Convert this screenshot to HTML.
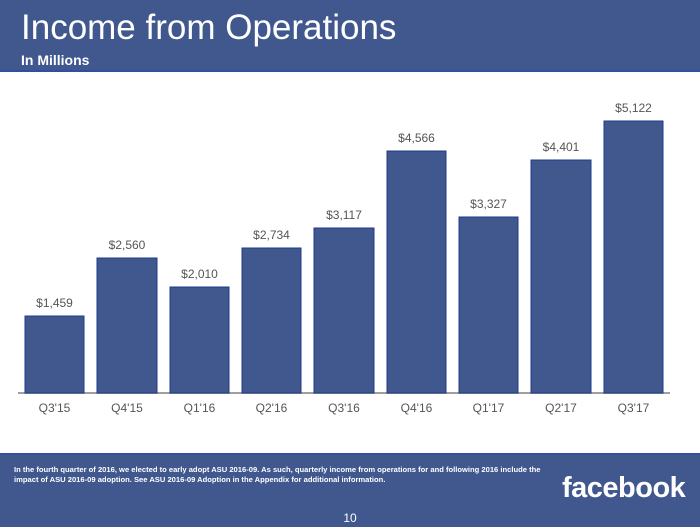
<!DOCTYPE html>
<html><head><style>
body{margin:0;width:700px;height:525px;position:relative;background:#fff;font-family:"Liberation Sans",sans-serif;overflow:hidden}
.hdr{position:absolute;left:0;top:0;width:700px;height:70px;background:#41588f;border-bottom:2px solid #2f4fa0}
.ftr{position:absolute;left:0;top:453px;width:700px;height:72px;background:#41588f;border-top:2px solid #2f4fa0}
</style></head><body>
<div class="hdr">
<div style="position:absolute;left:21px;top:8px;color:#fff;font-size:35px;">Income from Operations</div>
<div style="position:absolute;left:21px;top:52px;color:#fff;font-size:14px;font-weight:bold;">In Millions</div>
</div>
<svg style="position:absolute;left:0;top:0" width="700" height="453" font-family="Liberation Sans, sans-serif">
<line x1="18" y1="393" x2="670" y2="393" stroke="#a0a0a0" stroke-width="2"/>
<g fill="#41588f" stroke="#1f3a8a" stroke-width="1">
<rect x="25" y="316" width="59" height="77"/>
<rect x="97" y="258" width="60" height="135"/>
<rect x="170" y="287" width="59" height="106"/>
<rect x="242" y="248" width="59" height="145"/>
<rect x="314" y="228" width="60" height="165"/>
<rect x="387" y="151" width="59" height="242"/>
<rect x="459" y="217" width="59" height="176"/>
<rect x="531" y="160" width="60" height="233"/>
<rect x="604" y="121" width="59" height="272"/>
</g>
<g fill="#555" font-size="12" text-anchor="middle">
<text x="54.5" y="307">$1,459</text>
<text x="127" y="249">$2,560</text>
<text x="199.5" y="278">$2,010</text>
<text x="271.5" y="239">$2,734</text>
<text x="344" y="219">$3,117</text>
<text x="416.5" y="142">$4,566</text>
<text x="488.5" y="208">$3,327</text>
<text x="561" y="151">$4,401</text>
<text x="633.5" y="112">$5,122</text>
</g>
<g fill="#555" font-size="12" text-anchor="middle">
<text x="54.5" y="412">Q3'15</text>
<text x="127" y="412">Q4'15</text>
<text x="199.5" y="412">Q1'16</text>
<text x="271.5" y="412">Q2'16</text>
<text x="344" y="412">Q3'16</text>
<text x="416.5" y="412">Q4'16</text>
<text x="488.5" y="412">Q1'17</text>
<text x="561" y="412">Q2'17</text>
<text x="633.5" y="412">Q3'17</text>
</g>
</svg>
<div class="ftr">
<div style="position:absolute;left:14px;top:10px;color:#fff;font-size:7.6px;font-weight:bold;line-height:10px;width:528px">In the fourth quarter of 2016, we elected to early adopt ASU 2016-09. As such, quarterly income from operations for and following 2016 include the impact of ASU 2016-09 adoption. See ASU 2016-09 Adoption in the Appendix for additional information.</div>
<div style="position:absolute;left:562px;top:17px;color:#fff;font-size:29px;font-weight:bold;letter-spacing:-0.5px">facebook</div>
<div style="position:absolute;left:0;width:700px;text-align:center;top:56px;color:#fff;font-size:12px">10</div>
</div>
</body></html>
